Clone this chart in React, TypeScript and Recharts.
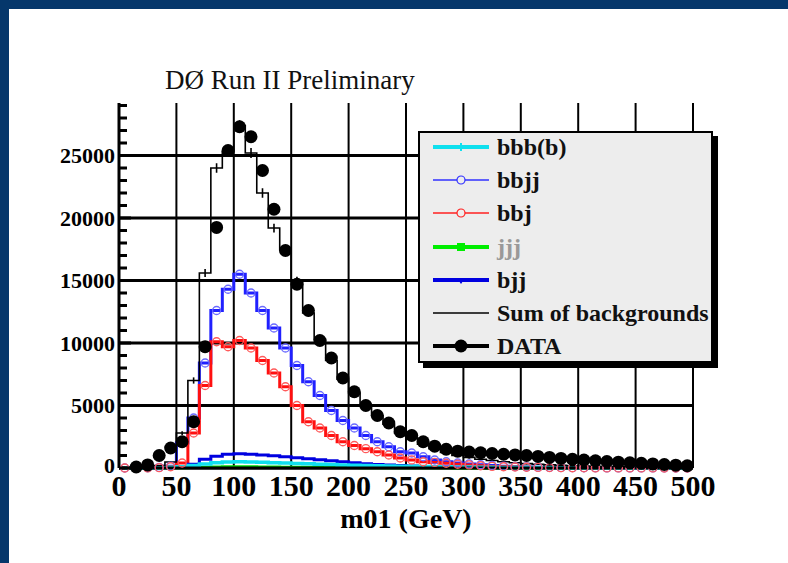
import React from "react";
import { ComposedChart, Line, XAxis, YAxis, CartesianGrid, ErrorBar } from "recharts";

// 10 GeV bins, centers
const binCenters = [
  5, 15, 25, 35, 45, 55, 65, 75, 85, 95,
  105, 115, 125, 135, 145, 155, 165, 175, 185, 195,
  205, 215, 225, 235, 245, 255, 265, 275, 285, 295,
  305, 315, 325, 335, 345, 355, 365, 375, 385, 395,
  405, 415, 425, 435, 445, 455, 465, 475, 485, 495,
];

const dataCounts = [
  null, 80, 250, 1000, 1600, 2100, 3700, 9700, 19250, 25400,
  27300, 26500, 23800, 20700, 17400, 14700, 12600, 10200, 8800, 7200,
  6100, 5000, 4200, 3600, 2900, 2600, 2100, 1750, 1500, 1350,
  1280, 1220, 1160, 1100, 1050, 1000, 930, 850, 770, 700,
  640, 580, 520, 470, 420, 380, 330, 280, 230, 180,
];

const sumBackground = [
  0, 30, 80, 200, 480, 2800, 7000, 15600, 24000, 25300,
  27400, 25200, 22000, 19200, 17500, 15000, 12400, 10300, 8600, 7100,
  6000, 5000, 4200, 3500, 2800, 2400, 1900, 1550, 1250, 1000,
  850, 700, 600, 500, 420, 350, 300, 250, 210, 180,
  150, 130, 110, 90, 80, 70, 60, 50, 40, 35,
];

const sumErrors = [
  0, 20, 30, 40, 60, 150, 250, 320, 380, 400,
  420, 400, 380, 350, 330, 310, 290, 270, 250, 230,
  210, 190, 170, 160, 150, 140, 130, 120, 110, 100,
  90, 80, 75, 70, 65, 60, 55, 50, 45, 40,
  40, 35, 35, 30, 30, 25, 25, 20, 20, 20,
];

const bbjjCounts = [
  0, 0, 20, 50, 150, 2000, 4000, 8400, 12600, 14300,
  15500, 14000, 12600, 11200, 9600, 8200, 6900, 5800, 4600, 3800,
  3200, 2600, 2100, 1700, 1300, 1200, 900, 640, 500, 400,
  330, 260, 200, 150, 110, 80, 60, 45, 35, 25,
  20, 15, 10, 8, 6, 5, 4, 3, 2, 2,
];

const bbjCounts = [
  0, 0, 10, 30, 100, 400, 2800, 6600, 10100, 9700,
  10200, 9600, 8600, 7600, 6500, 5000, 3700, 3200, 2600, 2100,
  1800, 1550, 1300, 1040, 800, 650, 500, 450, 380, 300,
  250, 180, 130, 100, 80, 60, 45, 35, 25, 20,
  15, 10, 8, 6, 5, 4, 3, 2, 2, 1,
];

const bjjCounts = [
  0, 0, 0, 20, 50, 100, 300, 700, 950, 1100,
  1150, 1100, 1050, 980, 900, 820, 740, 660, 580, 500,
  420, 350, 290, 240, 200, 160, 130, 100, 80, 60,
  50, 40, 30, 25, 20, 15, 12, 10, 8, 6,
  5, 4, 3, 2, 2, 1, 1, 1, 0, 0,
];

const bbbbCounts = [
  0, 0, 10, 30, 60, 100, 200, 330, 420, 480,
  500, 490, 460, 430, 400, 370, 340, 310, 280, 250,
  230, 210, 190, 170, 150, 135, 120, 105, 95, 85,
  75, 65, 58, 50, 45, 40, 35, 30, 26, 22,
  19, 16, 14, 12, 10, 8, 7, 6, 5, 4,
];

const jjjCounts = [
  0, 0, 5, 10, 20, 30, 50, 70, 90, 100,
  100, 95, 90, 80, 70, 60, 55, 50, 45, 40,
  35, 30, 25, 22, 20, 18, 15, 13, 11, 10,
  9, 8, 7, 6, 5, 4, 4, 3, 3, 2,
  2, 2, 1, 1, 1, 1, 1, 0, 0, 0,
];

const xTicks = [0, 50, 100, 150, 200, 250, 300, 350, 400, 450, 500];
const yLabelTicks = [0, 5000, 10000, 15000, 20000, 25000];
const yMinorTicks = [
  0, 1000, 2000, 3000, 4000, 5000, 6000, 7000, 8000, 9000,
  10000, 11000, 12000, 13000, 14000, 15000, 16000, 17000, 18000, 19000,
  20000, 21000, 22000, 23000, 24000, 25000, 26000, 27000, 28000, 29000,
];

const chartData = binCenters.map((m, i) => ({
  m,
  data: dataCounts[i],
  sum: sumBackground[i],
  sumErr: sumErrors[i],
  bbjj: bbjjCounts[i],
  bbj: bbjCounts[i],
  bjj: bjjCounts[i],
  bbbb: bbbbCounts[i],
  jjj: jjjCounts[i],
}));

const SERIF = "'Liberation Serif', 'DejaVu Serif', serif";

const YTick = (props: any) => {
  const { x, y, payload } = props;
  const major = yLabelTicks.includes(payload.value);
  return (
    <g>
      <line x1={x} x2={x + (major ? 12 : 8)} y1={y} y2={y} stroke="#000" strokeWidth={3} />
      {major && (
        <text x={x - 4} y={payload.value === 0 ? y - 3 : y} dy="0.35em" textAnchor="end" fontFamily={SERIF} fontWeight="bold" fontSize={22} fill="#000">
          {payload.value}
        </text>
      )}
    </g>
  );
};

const legendItems = [
  { label: "bbb(b)", color: "#10e0ee", lw: 4, marker: "cross", text: "#111" },
  { label: "bbjj", color: "#3030ff", lw: 1.5, marker: "open", text: "#111" },
  { label: "bbj", color: "#ff2020", lw: 1.5, marker: "open", text: "#111" },
  { label: "jjj", color: "#00ee00", lw: 4, marker: "square", text: "#999" },
  { label: "bjj", color: "#0000e0", lw: 4, marker: "tri", text: "#111" },
  { label: "Sum of backgrounds", color: "#000", lw: 1.5, marker: "none", text: "#111" },
  { label: "DATA", color: "#000", lw: 4, marker: "dot", text: "#111" },
];

function LegendBox() {
  return (
    <div
      style={{
        position: "absolute",
        left: 418,
        top: 131,
        width: 295,
        height: 232,
        background: "#ededed",
        border: "2px solid #000",
        boxShadow: "5px 5px 0 #000",
        boxSizing: "border-box",
      }}
    >
      {legendItems.map((it, i) => (
        <div key={it.label} style={{ position: "absolute", left: 0, top: -2 + i * 33.2, height: 32, width: 291, display: "flex", alignItems: "center", whiteSpace: "nowrap" }}>
          <svg width={70} height={20} style={{ marginLeft: 11, flex: "none" }}>
            <line x1={2} x2={58} y1={10} y2={10} stroke={it.color} strokeWidth={it.lw} />
            {it.marker === "open" && <circle cx={30} cy={10} r={4} fill="#ededed" stroke={it.color} strokeWidth={1.2} />}
            {it.marker === "dot" && <circle cx={30} cy={10} r={6.5} fill="#000" />}
            {it.marker === "square" && <rect x={26} y={6} width={8} height={8} fill={it.color} />}
            {it.marker === "tri" && <path d="M26 8 L34 8 L30 14 Z" fill={it.color} />}
            {it.marker === "cross" && <path d="M30 6 L30 14" stroke={it.color} strokeWidth={2} />}
          </svg>
          <span style={{ fontFamily: SERIF, fontWeight: "bold", fontSize: 24, color: it.text, marginLeft: -4, lineHeight: "24px", whiteSpace: "nowrap" }}>
            {it.label}
          </span>
        </div>
      ))}
    </div>
  );
}

export default function App() {
  return (
    <div style={{ position: "fixed", left: 0, top: 0, width: 788, height: 563, background: "#05376b", overflow: "hidden" }}>
      <div style={{ position: "absolute", left: 9, top: 9, right: 0, bottom: 0, background: "#fff" }} />
      <div
        style={{
          position: "absolute",
          left: 165,
          top: 67,
          fontFamily: SERIF,
          fontSize: 27,
          lineHeight: "27px",
          color: "#111",
          whiteSpace: "nowrap",
        }}
      >
        DØ Run II Preliminary
      </div>
      <div style={{ position: "absolute", left: 0, top: 0 }}>
        <ComposedChart width={788} height={563} data={chartData} margin={{ top: 103, right: 95, bottom: 45, left: 59 }}>
          <CartesianGrid horizontal={false} verticalValues={xTicks} stroke="#000" strokeWidth={2} />
          <CartesianGrid vertical={false} horizontalValues={yLabelTicks} stroke="#000" strokeWidth={3} />
          <XAxis
            dataKey="m"
            type="number"
            domain={[0, 500]}
            ticks={xTicks}
            interval={0}
            height={50}
            tickLine={false}
            tickSize={0}
            tickMargin={7}
            axisLine={{ stroke: "#000", strokeWidth: 3 }}
            tick={{ fontFamily: SERIF, fontWeight: "bold", fontSize: 30, fill: "#000" }}
            label={{ value: "m01 (GeV)", position: "bottom", offset: -10, fontFamily: SERIF, fontWeight: "bold", fontSize: 28, fill: "#000" }}
          />
          <XAxis xAxisId="top" orientation="top" type="number" domain={[0, 500]} height={0} tick={false} tickLine={false} axisLine={{ stroke: "#000", strokeWidth: 3 }} />
          <YAxis
            type="number"
            domain={[0, 29200]}
            ticks={yMinorTicks}
            interval={0}
            width={60}
            tickLine={false}
            tickSize={0}
            tickMargin={0}
            axisLine={{ stroke: "#000", strokeWidth: 3 }}
            tick={<YTick />}
          />
          <YAxis yAxisId="right" orientation="right" type="number" domain={[0, 29200]} width={0} tick={false} tickLine={false} axisLine={{ stroke: "#000", strokeWidth: 3 }} />

          <Line type="step" dataKey="bbjj" stroke="#2020ff" strokeWidth={3} isAnimationActive={false}
            dot={{ r: 4, fill: "none", stroke: "#6a6aff", strokeWidth: 1.3 }} />
          <Line type="step" dataKey="bbj" stroke="#ff1010" strokeWidth={3} isAnimationActive={false}
            dot={{ r: 4, fill: "none", stroke: "#ff5a5a", strokeWidth: 1.3 }} />
          <Line type="step" dataKey="bjj" stroke="#0000e0" strokeWidth={3} isAnimationActive={false} dot={false} />
          <Line type="step" dataKey="jjj" stroke="#00dd00" strokeWidth={3} isAnimationActive={false} dot={false} />
          <Line type="step" dataKey="bbbb" stroke="#10e0ee" strokeWidth={3.5} isAnimationActive={false} dot={false} />
          <Line type="step" dataKey="sum" stroke="#000" strokeWidth={1.6} isAnimationActive={false} dot={false}>
            <ErrorBar dataKey="sumErr" width={0} stroke="#000" strokeWidth={1.6} direction="y" />
          </Line>
          <Line dataKey="data" stroke="none" isAnimationActive={false}
            dot={{ r: 6.5, fill: "#000", stroke: "#000", strokeWidth: 0 }} activeDot={false} />
        </ComposedChart>
      </div>
      <LegendBox />
    </div>
  );
}
